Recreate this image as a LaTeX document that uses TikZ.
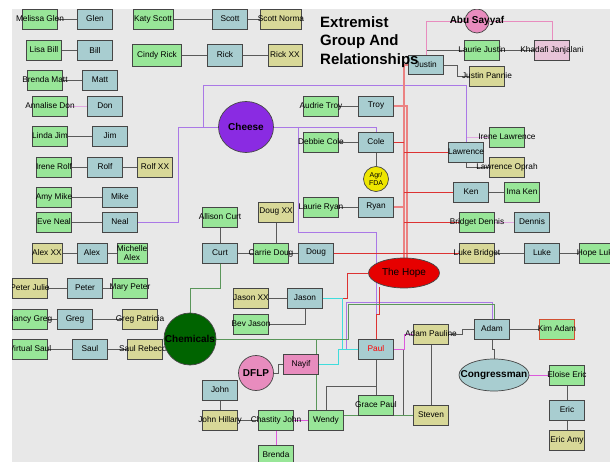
\documentclass[tikz,border=0pt]{standalone}
\usepackage{fontspec}
\setmainfont{Liberation Sans}
\usetikzlibrary{shapes.geometric}
\definecolor{canvas}{RGB}{232,232,232}
\definecolor{boxedge}{RGB}{70,70,70}
\definecolor{memberblue}{RGB}{168,205,208}
\definecolor{partnergreen}{RGB}{152,230,152}
\definecolor{kinkhaki}{RGB}{216,216,152}
\definecolor{khadafipink}{RGB}{232,196,216}
\definecolor{grouppink}{RGB}{232,140,190}
\definecolor{cheesepurple}{RGB}{138,43,226}
\definecolor{hopered}{RGB}{230,0,0}
\definecolor{chemgreen}{RGB}{0,100,0}
\definecolor{agryellow}{RGB}{238,230,0}
\definecolor{kimred}{RGB}{210,80,50}
\definecolor{tiegray}{RGB}{90,90,90}
\definecolor{softpink}{RGB}{225,170,225}
\definecolor{cheeseline}{RGB}{170,120,230}
\definecolor{hopeline}{RGB}{220,50,50}
\definecolor{hopepale}{RGB}{235,130,130}
\definecolor{jasoncyan}{RGB}{64,220,220}
\definecolor{chemline}{RGB}{90,150,90}
\definecolor{pinkline}{RGB}{220,90,220}
\pgfdeclarelayer{backdrop}
\pgfdeclarelayer{links}
\pgfsetlayers{backdrop,links,main}
\tikzstyle{person}=[draw=boxedge, line width=0.7pt, minimum width=35pt, minimum height=20pt, inner xsep=-30pt, inner ysep=0pt, font=\fontsize{8.3}{9.5}\selectfont]
\tikzstyle{member}=[person, fill=memberblue]
\tikzstyle{partner}=[person, fill=partnergreen]
\tikzstyle{kin}=[person, fill=kinkhaki]
\tikzstyle{group}=[draw=boxedge, line width=0.7pt, inner sep=0pt, font=\bfseries\fontsize{10}{12}\selectfont]
\tikzstyle{title}=[anchor=north west, align=left, inner sep=0pt, font=\bfseries\fontsize{15}{18.5}\selectfont]
\tikzstyle{tie}=[draw=tiegray, line width=0.8pt]
\tikzstyle{soft tie}=[tie, draw=softpink]
\tikzstyle{pink link}=[tie, draw=pinkline]
\tikzstyle{abu link}=[tie, draw=grouppink]
\tikzstyle{cheese link}=[tie, draw=cheeseline]
\tikzstyle{hope link}=[tie, draw=hopeline]
\tikzstyle{pale hope link}=[tie, draw=hopepale, line width=1.4pt]
\tikzstyle{jason link}=[tie, draw=jasoncyan]
\tikzstyle{chem link}=[tie, draw=chemline]

\begin{document}
\begin{tikzpicture}[x=1pt, y=-1pt]
    \useasboundingbox (0,0) rectangle (610,462);
    \begin{pgfonlayer}{backdrop}
      \fill[canvas] (12,9) rectangle (620,470);
    \end{pgfonlayer}

    \node[partner] (melissa_glen) at (40,19) {Melissa Glen};
    \node[member] (glen) at (95,19) {Glen};
    \node[partner, minimum width=40pt] (katy_scott) at (153,19) {Katy Scott};
    \node[member] (scott) at (230,19) {Scott};
    \node[kin, minimum width=41pt] (scott_norma) at (281,19) {Scott Norma};
    \node[partner] (lisa_bill) at (44,50) {Lisa Bill};
    \node[member] (bill) at (95,50) {Bill};
    \node[partner, minimum width=49pt, minimum height=22pt] (cindy_rick) at (157,55) {Cindy Rick};
    \node[member, minimum height=22pt] (rick) at (225,55) {Rick};
    \node[kin, minimum width=34pt, minimum height=22pt] (rick_xx) at (285,55) {Rick XX};
    \node[partner] (brenda_matt) at (45,80) {Brenda Matt};
    \node[member] (matt) at (100,80) {Matt};
    \node[partner] (annalise_don) at (50,106) {Annalise Don};
    \node[member] (don) at (105,106) {Don};
    \node[partner] (linda_jim) at (50,136) {Linda Jim};
    \node[member] (jim) at (110,136) {Jim};
    \node[partner] (irene_rolf) at (54,167) {Irene Rolf};
    \node[member] (rolf) at (105,167) {Rolf};
    \node[kin] (rolf_xx) at (155,167) {Rolf XX};
    \node[partner] (amy_mike) at (54,197) {Amy Mike};
    \node[member] (mike) at (120,197) {Mike};
    \node[partner] (eve_neal) at (54,222) {Eve Neal};
    \node[member] (neal) at (120,222) {Neal};
    \node[kin, minimum width=30pt] (alex_xx) at (47,253) {Alex XX};
    \node[member, minimum width=30pt] (alex) at (92,253) {Alex};
    \node[partner, minimum width=30pt, align=center] (michelle_alex) at (132,253) {Michelle\\Alex};
    \node[kin] (peter_julie) at (30,288) {Peter Julie};
    \node[member] (peter) at (85,288) {Peter};
    \node[partner] (mary_peter) at (130,288) {Mary Peter};
    \node[partner] (nancy_greg) at (30,319) {Nancy Greg};
    \node[member] (greg) at (75,319) {Greg};
    \node[kin] (greg_patricia) at (140,319) {Greg Patricia};
    \node[partner] (virtual_saul) at (30,349) {Virtual Saul};
    \node[member] (saul) at (90,349) {Saul};
    \node[kin] (saul_rebecca) at (145,349) {Saul Rebecca};

    \node[partner] (allison_curt) at (220,217) {Allison Curt};
    \node[member] (curt) at (220,253) {Curt};
    \node[kin] (doug_xx) at (276,212) {Doug XX};
    \node[partner] (carrie_doug) at (271,253) {Carrie Doug};
    \node[member] (doug) at (316,253) {Doug};
    \node[partner] (audrie_troy) at (321,106) {Audrie Troy};
    \node[member] (troy) at (376,106) {Troy};
    \node[partner] (debbie_cole) at (321,142) {Debbie Cole};
    \node[member] (cole) at (376,142) {Cole};
    \node[partner] (laurie_ryan) at (321,207) {Laurie Ryan};
    \node[member] (ryan) at (376,207) {Ryan};
    \node[kin] (jason_xx) at (251,298) {Jason XX};
    \node[member] (jason) at (305,298) {Jason};
    \node[partner] (bev_jason) at (251,324) {Bev Jason};
    \node[member] (john) at (220,390) {John};
    \node[kin] (john_hillary) at (220,420) {John Hillary};
    \node[partner] (chastity_john) at (276,420) {Chastity John};
    \node[partner] (wendy) at (326,420) {Wendy};
    \node[partner] (brenda) at (276,455) {Brenda};
    \node[person, fill=grouppink] (nayif) at (301,364) {Nayif};
    \node[member, text=red] (paul) at (376,349) {Paul};
    \node[partner] (grace_paul) at (376,405) {Grace Paul};

    \node[member, minimum height=19pt] (justin) at (426,65) {Justin};
    \node[partner] (laurie_justin) at (482,50) {Laurie Justin};
    \node[person, fill=khadafipink] (khadafi) at (552,50) {Khadafi Janjalani};
    \node[kin] (justin_pannie) at (487,76) {Justin Pannie};
    \node[partner] (irene_lawrence) at (507,137) {Irene Lawrence};
    \node[member] (lawrence) at (466,152) {Lawrence};
    \node[kin] (lawrence_oprah) at (507,167) {Lawrence Oprah};
    \node[member] (ken) at (471,192) {Ken};
    \node[partner] (ima_ken) at (522,192) {Ima Ken};
    \node[partner] (bridget_dennis) at (477,222) {Bridget Dennis};
    \node[member] (dennis) at (532,222) {Dennis};
    \node[kin] (luke_bridget) at (477,253) {Luke Bridget};
    \node[member] (luke) at (542,253) {Luke};
    \node[partner] (hope_luke) at (597,253) {Hope Luke};
    \node[kin] (adam_pauline) at (431,334) {Adam Pauline};
    \node[member] (adam) at (492,329) {Adam};
    \node[partner, draw=kimred] (kim_adam) at (557,329) {Kim Adam};
    \node[kin] (steven) at (431,415) {Steven};
    \node[partner] (eloise_eric) at (567,375) {Eloise Eric};
    \node[member] (eric) at (567,410) {Eric};
    \node[kin] (eric_amy) at (567,440) {Eric Amy};

    \node[group, ellipse, fill=cheesepurple, minimum width=55pt, minimum height=51pt] (cheese) at (246,127) {Cheese};
    \node[group, ellipse, fill=hopered, minimum width=71pt, minimum height=30pt, font=\fontsize{10}{12}\selectfont] (the_hope) at (404,273) {The Hope};
    \node[group, circle, fill=chemgreen, minimum size=52pt] (chemicals) at (190,339) {\makebox[0pt]{Chemicals}};
    \node[group, circle, fill=grouppink, minimum size=35pt] (dflp) at (256,373) {DFLP};
    \node[group, circle, fill=grouppink, minimum size=24pt] (abu_sayyaf) at (477,21) {\makebox[0pt]{Abu Sayyaf}};
    \node[group, circle, fill=agryellow, minimum size=25pt, align=center, font=\fontsize{7}{8}\selectfont] (agr_fda) at (376,179) {Agr/\\FDA};
    \node[group, ellipse, fill=memberblue, minimum width=70pt, minimum height=32pt] (congressman) at (494,375) {\makebox[0pt]{Congressman}};

    \node[title] (heading) at (320,16) {Extremist\\Group And\\Relationships};

    \begin{pgfonlayer}{links}
      \draw[tie] (melissa_glen) -- (glen);
      \draw[tie] (katy_scott) -- (scott) -- (scott_norma);
      \draw[tie] (lisa_bill) -- (bill);
      \draw[tie] (cindy_rick) -- (rick) -- (rick_xx);
      \draw[tie] (brenda_matt) -- (matt);
      \draw[soft tie] (annalise_don) -- (don);
      \draw[tie] (linda_jim) -- (jim);
      \draw[tie] (irene_rolf) -- (rolf) -- (rolf_xx);
      \draw[tie] (amy_mike) -- (mike);
      \draw[tie] (eve_neal) -- (neal);
      \draw[tie] (alex_xx) -- (alex) -- (michelle_alex);
      \draw[tie] (peter_julie) -- (peter) -- (mary_peter);
      \draw[tie] (nancy_greg) -- (greg) -- (greg_patricia);
      \draw[tie] (virtual_saul) -- (saul) -- (saul_rebecca);

      \draw[tie] (allison_curt) -- (curt);
      \draw[tie] (curt) -- (carrie_doug) -- (doug);
      \draw[tie] (doug_xx) -- (doug_xx |- doug);
      \draw[tie] (audrie_troy) -- (troy);
      \draw[tie] (debbie_cole) -- (cole);
      \draw[tie] (cole) -- (agr_fda);
      \draw[tie] (laurie_ryan) -- (ryan);
      \draw[tie] (jason_xx) -- (jason);
      \draw[tie] (jason.south) |- (bev_jason.east);
      \draw[tie] (john) -- (john_hillary) -- (chastity_john);
      \draw[pink link] (chastity_john) -- (wendy);
      \draw[pink link] (chastity_john) -- (brenda);
      \draw[tie] (dflp.east) -- (278,373) |- (nayif.west);

      \draw[tie] (justin) |- (laurie_justin);
      \draw[tie] (laurie_justin) -- (khadafi);
      \draw[tie] (justin.east) -- (457,65) |- (justin_pannie.west);
      \draw[abu link] (abu_sayyaf.west) -| (justin.north);
      \draw[abu link] (abu_sayyaf.east) -| (khadafi.north);
      \draw[soft tie] (lawrence.north) |- (irene_lawrence.west);
      \draw[tie] (lawrence) |- (lawrence_oprah.west);
      \draw[tie] (ken) -- (ima_ken);
      \draw[soft tie] (bridget_dennis) -- (dennis);
      \draw[tie] (luke_bridget) -- (luke) -- (hope_luke);

      \draw[tie] (adam) -- (kim_adam);
      \draw[tie] (adam_pauline.east) -- (462,334) |- (adam.west);
      \draw[tie] (adam_pauline) -- (steven);
      \draw[tie] (adam.south) -- (492,349) -| (congressman.north);
      \draw[pink link] (congressman) -- (eloise_eric);
      \draw[tie] (eloise_eric) -- (eric) -- (eric_amy);

      \draw[tie] (paul) -- (grace_paul);
      \draw[tie] (376,386) -| (wendy.north);
      \draw[tie] (paul.east) -| (403,415) -- (steven.west);
      \draw[pink link] (paul.east) -- (404,349) |- (adam_pauline.west);

      \draw[cheese link] (cheese.west) -- (178,127) |- (neal.east);
      \draw[cheese link] (203,127) -- (203,85) -| (lawrence.north);
      \draw[cheese link] (cheese.east) -| (cole.north);
      \draw[cheese link] (298,127) -- (298,232) -| (paul.north);
      \draw[cheese link] (paul.west) -- (346,349) |- (346,302) -| (adam.north);

      \draw[pale hope link] (the_hope.north) -- (404,65) -- (justin.west);
      \draw[pale hope link] (troy.east) -| (407,259);
      \draw[hope link] (cole.east) -- (404,142);
      \draw[pale hope link] (ryan.east) -- (404,207);
      \draw[hope link] (404,152) -- (lawrence.west);
      \draw[hope link] (404,192) -- (ken.west);
      \draw[hope link] (404,222) -- (bridget_dennis.west);
      \draw[hope link] (doug.east) -- (luke_bridget.west);
      \draw[hope link] (the_hope.west) -- (347,273) |- (jason.east);
      \draw[hope link] (379,287) -- (379,314) -| (paul.north);

      \draw[jason link] (jason.east) -- (342,298) |- (paul.west);
      \draw[jason link] (nayif.east) -- (338,364) |- (paul.west);

      \draw[chem link] (chemicals.north) -- (190,288) -| (curt.south);
      \draw[chem link] (chemicals.east) -- (348,339) |- (494,304) -- (494,319);
      \draw[chem link] (316,339) |- (steven.west);
    \end{pgfonlayer}

    \fill[white] (0,0) rectangle (12,462);
    \fill[white] (0,0) rectangle (610,9);
\end{tikzpicture}
\end{document}
